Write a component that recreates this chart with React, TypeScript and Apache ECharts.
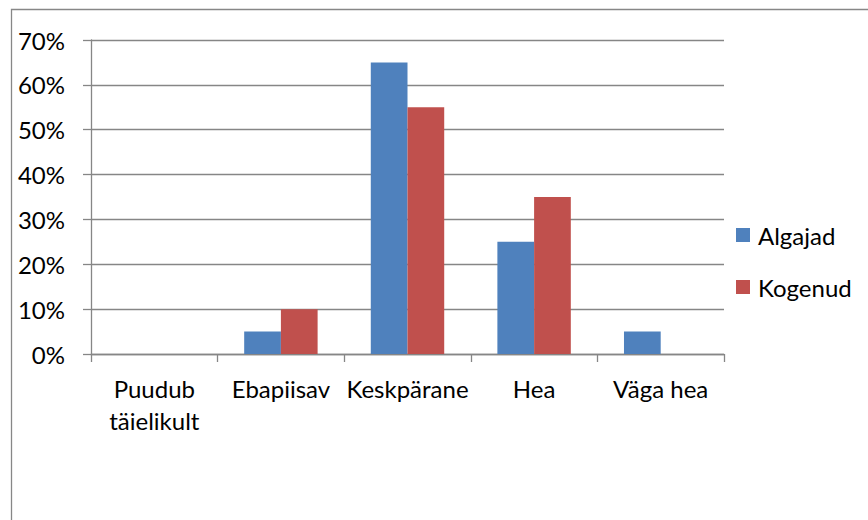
import React, { useEffect, useRef } from "react";
import * as echarts from "echarts";

const categories = ["Puudub\ntäielikult", "Ebapiisav", "Keskpärane", "Hea", "Väga hea"];
const seriesNames = ["Algajad", "Kogenud"];
const algajad = [0, 5, 65, 25, 5];
const kogenud = [0, 10, 55, 35, 0];
const colors = ["#4F81BD", "#C0504D"];

const FONT = "Lato";

export default function App() {
  const ref = useRef<HTMLDivElement>(null);
  useEffect(() => {
    if (!ref.current) return;
    const chart = echarts.init(ref.current, undefined, { renderer: "svg" });
    chart.setOption({
      animation: false,
      backgroundColor: "#ffffff",
      grid: { left: 91, right: 144, top: 40, bottom: 166, containLabel: false },
      graphic: [
        {
          type: "rect",
          shape: { x: 11.5, y: 9.5, width: 2000, height: 2000 },
          style: { fill: "none", stroke: "#878787", lineWidth: 1.3 },
          silent: true,
        },
      ],
      legend: {
        orient: "vertical",
        left: 736,
        top: 223,
        padding: 0,
        itemWidth: 14,
        itemHeight: 14,
        itemGap: 28,
        icon: "rect",
        data: seriesNames,
        textStyle: {
          fontFamily: FONT,
          fontSize: 24,
          color: "#000",
          lineHeight: 24,
          padding: [0, 0, 0, 3],
        },
      },
      xAxis: {
        type: "category",
        data: categories,
        axisLine: { show: true, lineStyle: { color: "#868686", width: 1.3 } },
        axisTick: { show: true, length: 8, inside: false, lineStyle: { color: "#868686", width: 1.3 } },
        axisLabel: {
          fontFamily: FONT,
          fontSize: 24,
          color: "#000",
          lineHeight: 32,
          margin: 18,
          interval: 0,
        },
        splitLine: { show: false },
      },
      yAxis: {
        type: "value",
        min: 0,
        max: 70,
        interval: 10,
        axisLine: { show: true, lineStyle: { color: "#868686", width: 1.3 } },
        axisTick: { show: true, length: 8, lineStyle: { color: "#868686", width: 1.3 } },
        axisLabel: {
          fontFamily: FONT,
          fontSize: 24,
          color: "#000",
          margin: 26,
          formatter: "{value}%",
        },
        splitLine: { show: true, lineStyle: { color: "#868686", width: 1.3 } },
      },
      series: [
        {
          name: seriesNames[0],
          type: "bar",
          data: algajad,
          itemStyle: { color: colors[0] },
          barGap: "0%",
          barCategoryGap: "42%",
        },
        {
          name: seriesNames[1],
          type: "bar",
          data: kogenud,
          itemStyle: { color: colors[1] },
          barGap: "0%",
          barCategoryGap: "42%",
        },
      ],
    });
    return () => chart.dispose();
  }, []);
  return (
    <div
      ref={ref}
      style={{ position: "fixed", left: 0, top: 0, width: 868, height: 520 }}
    />
  );
}
